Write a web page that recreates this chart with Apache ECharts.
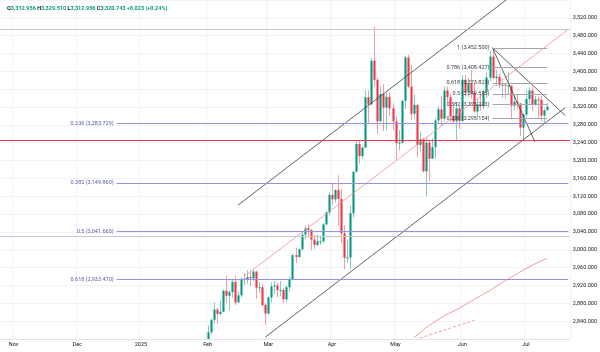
<!DOCTYPE html>
<html>
<head>
<meta charset="utf-8">
<script src="https://cdn.jsdelivr.net/npm/echarts@6/dist/echarts.min.js"></script>
<style>
  html, body { margin: 0; padding: 0; background: #fff; }
  #chart { width: 600px; height: 352px; }
</style>
</head>
<body>
<div id="chart"></div>
<script>
// daily bars: date, open, close, low, high
var candles = [
  ['2025-02-03', 2798, 2815, 2772, 2830], ['2025-02-04', 2815, 2843, 2810, 2845],
  ['2025-02-05', 2843, 2866, 2835, 2882], ['2025-02-06', 2866, 2856, 2834, 2870],
  ['2025-02-07', 2856, 2861, 2853, 2886], ['2025-02-10', 2861, 2908, 2860, 2911],
  ['2025-02-11', 2908, 2897, 2880, 2942], ['2025-02-12', 2897, 2905, 2864, 2909],
  ['2025-02-13', 2905, 2928, 2893, 2935], ['2025-02-14', 2928, 2882, 2876, 2942],
  ['2025-02-17', 2882, 2898, 2881, 2906], ['2025-02-18', 2898, 2935, 2893, 2938],
  ['2025-02-19', 2935, 2934, 2921, 2947], ['2025-02-20', 2934, 2939, 2924, 2954],
  ['2025-02-21', 2939, 2936, 2918, 2953], ['2025-02-24', 2936, 2951, 2930, 2956],
  ['2025-02-25', 2951, 2915, 2890, 2953], ['2025-02-26', 2915, 2916, 2903, 2927],
  ['2025-02-27', 2916, 2876, 2874, 2922], ['2025-02-28', 2876, 2857, 2832, 2880],
  ['2025-03-03', 2857, 2893, 2855, 2895], ['2025-03-04', 2893, 2918, 2882, 2927],
  ['2025-03-05', 2918, 2920, 2900, 2930], ['2025-03-06', 2920, 2910, 2894, 2927],
  ['2025-03-07', 2910, 2910, 2896, 2930], ['2025-03-10', 2910, 2889, 2880, 2915],
  ['2025-03-11', 2889, 2916, 2882, 2920], ['2025-03-12', 2916, 2934, 2906, 2940],
  ['2025-03-13', 2934, 2988, 2931, 2990], ['2025-03-14', 2988, 2984, 2970, 3005],
  ['2025-03-17', 2984, 3001, 2982, 3003], ['2025-03-18', 3001, 3034, 2999, 3038],
  ['2025-03-19', 3034, 3048, 3024, 3055], ['2025-03-20', 3048, 3044, 3028, 3057],
  ['2025-03-21', 3044, 3023, 2999, 3047], ['2025-03-24', 3023, 3011, 3002, 3034],
  ['2025-03-25', 3011, 3019, 3008, 3034], ['2025-03-26', 3019, 3019, 3011, 3032],
  ['2025-03-27', 3019, 3057, 3016, 3060], ['2025-03-28', 3057, 3084, 3055, 3087],
  ['2025-03-31', 3084, 3123, 3077, 3128], ['2025-04-01', 3123, 3113, 3100, 3149],
  ['2025-04-02', 3113, 3134, 3106, 3136], ['2025-04-03', 3134, 3114, 3054, 3167],
  ['2025-04-04', 3114, 3037, 3015, 3136], ['2025-04-07', 3037, 2982, 2956, 3055],
  ['2025-04-08', 2982, 2983, 2970, 3023], ['2025-04-09', 2983, 3082, 2957, 3099],
  ['2025-04-10', 3082, 3175, 3072, 3176], ['2025-04-11', 3175, 3237, 3173, 3245],
  ['2025-04-14', 3237, 3210, 3193, 3245], ['2025-04-15', 3210, 3229, 3203, 3233],
  ['2025-04-16', 3229, 3342, 3228, 3358], ['2025-04-17', 3342, 3326, 3284, 3357],
  ['2025-04-21', 3326, 3424, 3324, 3430], ['2025-04-22', 3424, 3381, 3367, 3500],
  ['2025-04-23', 3381, 3288, 3260, 3386], ['2025-04-24', 3288, 3349, 3288, 3367],
  ['2025-04-25', 3349, 3319, 3266, 3371], ['2025-04-28', 3319, 3343, 3268, 3352],
  ['2025-04-29', 3343, 3317, 3300, 3353], ['2025-04-30', 3317, 3288, 3268, 3328],
  ['2025-05-01', 3288, 3239, 3202, 3299], ['2025-05-02', 3239, 3240, 3223, 3268],
  ['2025-05-05', 3240, 3334, 3238, 3336], ['2025-05-06', 3334, 3431, 3316, 3435],
  ['2025-05-07', 3431, 3366, 3363, 3437], ['2025-05-08', 3366, 3305, 3290, 3414],
  ['2025-05-09', 3305, 3325, 3294, 3348], ['2025-05-12', 3325, 3235, 3207, 3326],
  ['2025-05-13', 3235, 3248, 3220, 3265], ['2025-05-14', 3248, 3176, 3173, 3252],
  ['2025-05-15', 3176, 3240, 3120, 3252], ['2025-05-16', 3240, 3204, 3154, 3245],
  ['2025-05-19', 3204, 3230, 3206, 3250], ['2025-05-20', 3230, 3290, 3205, 3295],
  ['2025-05-21', 3290, 3315, 3282, 3322], ['2025-05-22', 3315, 3294, 3278, 3345],
  ['2025-05-23', 3294, 3357, 3288, 3366], ['2025-05-26', 3357, 3342, 3331, 3366],
  ['2025-05-27', 3342, 3300, 3286, 3350], ['2025-05-28', 3300, 3288, 3285, 3325],
  ['2025-05-29', 3288, 3317, 3245, 3330], ['2025-05-30', 3317, 3289, 3271, 3325],
  ['2025-06-02', 3289, 3381, 3287, 3392], ['2025-06-03', 3381, 3353, 3343, 3392],
  ['2025-06-04', 3353, 3373, 3343, 3385], ['2025-06-05', 3373, 3352, 3339, 3403],
  ['2025-06-06', 3352, 3310, 3307, 3375], ['2025-06-09', 3310, 3326, 3294, 3339],
  ['2025-06-10', 3326, 3322, 3312, 3349], ['2025-06-11', 3322, 3355, 3315, 3360],
  ['2025-06-12', 3355, 3386, 3340, 3398], ['2025-06-13', 3386, 3433, 3378, 3446],
  ['2025-06-16', 3433, 3385, 3383, 3452.5], ['2025-06-17', 3385, 3388, 3366, 3403],
  ['2025-06-18', 3388, 3369, 3362, 3395], ['2025-06-19', 3369, 3370, 3341, 3378],
  ['2025-06-20', 3370, 3368, 3340, 3373], ['2025-06-23', 3368, 3368, 3347, 3398],
  ['2025-06-24', 3368, 3323, 3295, 3368], ['2025-06-25', 3323, 3332, 3312, 3347],
  ['2025-06-26', 3332, 3328, 3317, 3350], ['2025-06-27', 3328, 3274, 3255, 3329],
  ['2025-06-30', 3274, 3303, 3246.5, 3306], ['2025-07-01', 3303, 3338, 3297, 3358],
  ['2025-07-02', 3338, 3357, 3328, 3365], ['2025-07-03', 3357, 3326, 3311, 3366],
  ['2025-07-04', 3326, 3337, 3322, 3345], ['2025-07-07', 3337, 3336, 3296, 3343],
  ['2025-07-08', 3336, 3301, 3287, 3346], ['2025-07-09', 3301, 3312.72, 3282, 3317],
  ['2025-07-10', 3312.956, 3320.743, 3312.956, 3329.51]
];

// moving average (solid) and second average (dashed), read at a few dates
var maDates = ['2025-05-09', '2025-05-16', '2025-05-23', '2025-05-30', '2025-06-06', '2025-06-13', '2025-06-20', '2025-06-27', '2025-07-03', '2025-07-10'];
var maValues = [2803, 2830, 2852, 2869, 2889, 2908, 2930, 2950, 2965, 2981.346];
var ma2Dates = ['2025-05-13', '2025-06-06'];
var ma2Values = [2802, 2842];

// big fib retracement (left) and small one (right)
var bigFibLevels = [0.236, 0.382, 0.5, 0.618];
var bigFibPrices = [3283.729, 3149.860, 3041.665, 2933.470];
var bigFibSpan = ['2024-12-19', '2025-07-21'];
var smallFibLevels = [1, 0.786, 0.618, 0.5, 0.382, 0.236];
var smallFibPrices = [3452.5, 3408.427, 3373.823, 3349.525, 3325.223, 3295.154];
var smallFibSpan = ['2025-06-16', '2025-07-10'];

// horizontal levels
var greyLevels = [3495, 3030];
var supportLevel = 3245;

// trend lines: [date, price] -> [date, price]
var channelLines = [
  [['2025-02-17', 3100], ['2025-06-24', 3568]],
  [['2025-02-28', 2804], ['2025-07-18', 3318.8]],
  [['2025-06-16', 3452.5], ['2025-07-04', 3242]],
  [['2025-06-16', 3452.5], ['2025-07-18', 3301]]
];
var midLine = [['2025-02-19', 2940], ['2025-07-21', 3494]];

// price axis
var priceMin = 2800, priceMax = 3560, priceStep = 40;
var closedDays = ['2024-12-25', '2025-01-01'];

function weekdays(from, to, skip) {
  var out = [], d = new Date(from + 'T00:00:00Z'), end = new Date(to + 'T00:00:00Z');
  while (d <= end) {
    var s = d.toISOString().slice(0, 10), wd = d.getUTCDay();
    if (wd !== 0 && wd !== 6 && skip.indexOf(s) < 0) out.push(s);
    d.setUTCDate(d.getUTCDate() + 1);
  }
  return out;
}

var dates = weekdays('2024-10-28', '2025-01-31', closedDays)
  .concat(candles.map(function (c) { return c[0]; }))
  .concat(weekdays('2025-07-11', '2025-07-21', []));

var monthStart = dates.map(function (d, i) {
  return i > 0 && d.slice(5, 7) !== dates[i - 1].slice(5, 7);
});
var MONTHS = ['Jan', 'Feb', 'Mar', 'Apr', 'May', 'Jun', 'Jul', 'Aug', 'Sep', 'Oct', 'Nov', 'Dec'];

function fmt(v) {
  return v.toLocaleString('en-US', { minimumFractionDigits: 3, maximumFractionDigits: 3 });
}

var UP = '#089981', DOWN = '#f23645';
var FONT = 'Roboto, "Noto Sans", sans-serif';
var last = candles[candles.length - 1];
var prevClose = candles[candles.length - 2][2];
var chg = last[2] - prevClose;
var chgPct = chg / prevClose * 100;

function fibMarks(levels, prices, span, lineColor, textColor) {
  return levels.map(function (lv, i) {
    var ls = { color: lineColor, width: 1, type: 'solid' };
    return [
      {
        coord: [span[0], prices[i]],
        lineStyle: ls,
        label: {
          show: true, position: 'start', distance: 3,
          formatter: lv + ' (' + fmt(prices[i]) + ')',
          color: textColor, fontSize: 5.5, fontFamily: FONT
        }
      },
      { coord: [span[1], prices[i]], lineStyle: ls }
    ];
  });
}

function axisBox(value, bg, text, distance) {
  return {
    yAxis: value,
    lineStyle: { opacity: 0 },
    label: {
      show: true, position: 'end', distance: distance, formatter: text,
      backgroundColor: bg, color: '#fff', fontSize: 5.5, fontFamily: FONT,
      padding: [1.5, 6, 1, 2]
    }
  };
}

var lineSeries = channelLines.map(function (seg) {
  return {
    type: 'line', data: seg, symbol: 'none', silent: true, z: 4,
    lineStyle: { color: '#3c3c3c', width: 0.8 }
  };
});

var option = {
  animation: false,
  backgroundColor: '#ffffff',
  title: {
    left: 2, top: 1,
    text: '{k|O}{v|' + fmt(last[1]) + '} {k|H}{v|' + fmt(last[4]) + '} {k|L}{v|' + fmt(last[3]) +
      '} {k|C}{v|' + fmt(last[2]) + '} {v|' + (chg >= 0 ? '+' : '') + fmt(chg) + ' (' + (chg >= 0 ? '+' : '') + chgPct.toFixed(2) + '%)}',
    textStyle: {
      fontSize: 5.5, fontFamily: FONT,
      rich: {
        k: { color: '#131722', fontSize: 5.5, fontFamily: FONT },
        v: { color: UP, fontSize: 5.5, fontFamily: FONT }
      }
    }
  },
  grid: { left: 0, right: 27, top: 0, bottom: 13 },
  xAxis: {
    type: 'category', data: dates, boundaryGap: true,
    axisLine: { lineStyle: { color: '#e0e3eb' } },
    axisTick: { show: false },
    axisLabel: {
      interval: function (i) { return monthStart[i]; },
      formatter: function (v) {
        var m = +v.slice(5, 7) - 1;
        return m === 0 ? v.slice(0, 4) : MONTHS[m];
      },
      color: '#131722', fontSize: 5.5, fontFamily: FONT, margin: 3
    },
    splitLine: {
      show: true,
      interval: function (i) { return monthStart[i]; },
      lineStyle: { color: '#f0f3fa' }
    }
  },
  yAxis: {
    type: 'value', position: 'right',
    min: priceMin, max: priceMax, interval: priceStep,
    axisLine: { show: false }, axisTick: { show: false },
    axisLabel: {
      showMinLabel: false, showMaxLabel: false, formatter: fmt,
      color: '#131722', fontSize: 5.5, fontFamily: FONT, margin: 3
    },
    splitLine: { lineStyle: { color: '#f0f3fa' } }
  },
  series: [
    {
      type: 'custom', name: 'GOLD', z: 3, clip: true,
      data: candles,
      encode: { x: 0, y: [1, 2, 3, 4] },
      renderItem: function (params, api) {
        var idx = api.value(0);
        var o = api.value(1), c = api.value(2), l = api.value(3), h = api.value(4);
        var pO = api.coord([idx, o]), pC = api.coord([idx, c]);
        var pL = api.coord([idx, l]), pH = api.coord([idx, h]);
        var w = api.size([1, 0])[0] * 0.7;
        var up = c >= o;
        var cx = Math.round(pO[0]) + 0.5;
        var top = Math.min(pO[1], pC[1]);
        return {
          type: 'group',
          children: [
            {
              type: 'line',
              shape: { x1: cx, y1: pH[1], x2: cx, y2: pL[1] },
              style: { stroke: up ? 'rgba(8,153,129,0.5)' : 'rgba(242,54,69,0.5)', lineWidth: 1 }
            },
            {
              type: 'rect',
              shape: { x: cx - w / 2, y: top, width: w, height: Math.max(Math.abs(pO[1] - pC[1]), 1) },
              style: { fill: up ? UP : DOWN }
            }
          ]
        };
      },
      markLine: {
        symbol: ['none', 'none'], silent: true, animation: false,
        data: [].concat(
          greyLevels.map(function (v) {
            return { yAxis: v, lineStyle: { color: '#c4c6ce', width: 1, type: 'solid' }, label: { show: false } };
          }),
          [{ yAxis: supportLevel, lineStyle: { color: DOWN, width: 1, type: 'solid' }, label: { show: false } }],
          fibMarks(bigFibLevels, bigFibPrices, bigFibSpan, '#9494dc', '#5b5ba8'),
          fibMarks(smallFibLevels, smallFibPrices, smallFibSpan, '#a3a6ae', '#3a3d46'),
          [
            axisBox(supportLevel, DOWN, fmt(supportLevel), -8),
            axisBox(maValues[maValues.length - 1], DOWN, fmt(maValues[maValues.length - 1]), -8),
            {
              yAxis: last[2],
              lineStyle: { opacity: 0 },
              label: {
                show: true, position: 'end', distance: -17,
                formatter: '{g|GOLD}{p|' + fmt(last[2]) + '}',
                rich: {
                  g: { backgroundColor: UP, color: '#fff', fontSize: 5, fontFamily: FONT, padding: [1.5, 1.5, 1, 1.5] },
                  p: { backgroundColor: UP, color: '#fff', fontSize: 5.5, fontFamily: FONT, padding: [1.5, 6, 1, 2] }
                }
              }
            }
          ]
        )
      }
    },
    {
      type: 'line', symbol: 'none', silent: true, z: 4,
      data: maDates.map(function (d, i) { return [d, maValues[i]]; }),
      lineStyle: { color: '#f59aa1', width: 1 }
    },
    {
      type: 'line', symbol: 'none', silent: true, z: 4,
      data: ma2Dates.map(function (d, i) { return [d, ma2Values[i]]; }),
      lineStyle: { color: '#f59aa1', width: 1, type: [3, 2] }
    },
    {
      type: 'line', symbol: 'none', silent: true, z: 4,
      data: midLine,
      lineStyle: { color: '#f58a93', width: 0.8 }
    }
  ].concat(lineSeries)
};

var chart = echarts.init(document.getElementById('chart'));
chart.setOption(option);
window.addEventListener('resize', function () { chart.resize(); });
</script>
</body>
</html>
